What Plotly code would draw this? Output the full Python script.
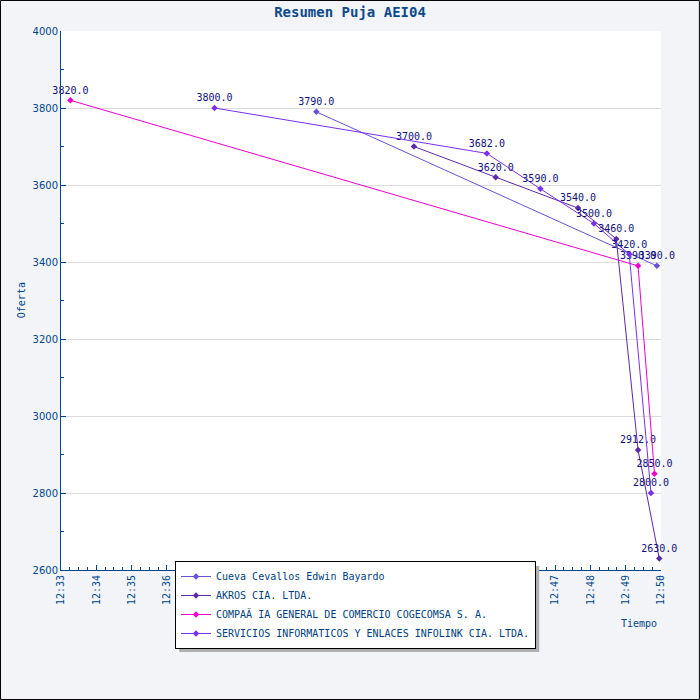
import plotly.graph_objects as go

dia = "2024-01-01 "

series_names = [
    "Cueva Cevallos Edwin Bayardo",
    "AKROS CIA. LTDA.",
    "COMPAÃ IA GENERAL DE COMERCIO COGECOMSA S. A.",
    "SERVICIOS INFORMATICOS Y ENLACES INFOLINK CIA. LTDA.",
]
series_colors = ["#6a50d8", "#5b2aa8", "#ee00cc", "#7a30ec"]

cueva_tiempo = ["12:40:14", "12:49:53"]
cueva_oferta = [3790, 3390]

akros_tiempo = ["12:43:00", "12:45:19", "12:47:39", "12:48:44", "12:49:21", "12:49:57"]
akros_oferta = [3700, 3620, 3540, 3460, 2912, 2630]

cogecomsa_tiempo = ["12:33:16", "12:49:21", "12:49:49"]
cogecomsa_oferta = [3820, 3390, 2850]

infolink_tiempo = ["12:37:21", "12:45:04", "12:46:35", "12:48:06", "12:49:06", "12:49:43"]
infolink_oferta = [3800, 3682, 3590, 3500, 3420, 2800]

tiempos = [cueva_tiempo, akros_tiempo, cogecomsa_tiempo, infolink_tiempo]
ofertas = [cueva_oferta, akros_oferta, cogecomsa_oferta, infolink_oferta]

azul = "#00468c"
mono = "DejaVu Sans Mono"

fig = go.Figure()

for name, color, t, v in zip(series_names, series_colors, tiempos, ofertas):
    fig.add_trace(go.Scatter(
        x=[dia + h for h in t], y=v, name=name,
        mode="lines+markers+text",
        text=["%.1f" % o for o in v],
        textposition="top center",
        textfont=dict(family=mono, size=10, color="#10107a"),
        line=dict(color=color, width=1),
        marker=dict(symbol="diamond", size=5, color=color),
        cliponaxis=False,
    ))

# plot area spans 61..661 x 31..570 px
fig.update_layout(
    width=700, height=700, autosize=False,
    margin=dict(l=61, r=39, t=31, b=130),
    paper_bgcolor="#f3f4f7",
    plot_bgcolor="white",
    title=dict(text="<b>Resumen Puja AEI04</b>", x=0.5, xanchor="center",
               y=0.983, yanchor="middle",
               font=dict(family=mono, size=14, color="#0b4a8c")),
    font=dict(family=mono, size=10, color=azul),
    showlegend=True,
    legend=dict(x=0.19, y=0.0167, xanchor="left", yanchor="top",
                bgcolor="white", bordercolor="black", borderwidth=1,
                font=dict(family=mono, size=10, color="#003f7f"),
                tracegroupgap=0),
    xaxis=dict(range=[dia + "12:33:00", dia + "12:50:00"],
               dtick=60000, tickformat="%H:%M", tickangle=-90,
               ticks="inside", ticklen=5, tickcolor=azul,
               showline=True, linecolor=azul, linewidth=1,
               showgrid=False, zeroline=False,
               tickfont=dict(family=mono, size=10, color=azul),
               minor=dict(dtick=15000, ticks="inside", ticklen=3, tickcolor=azul)),
    yaxis=dict(range=[2600, 4000], dtick=200,
               ticks="inside", ticklen=5, tickcolor=azul,
               showline=True, linecolor=azul, linewidth=1,
               showgrid=True, gridcolor="#dcdcdc", zeroline=False,
               tickfont=dict(family="DejaVu Sans", size=10, color=azul),
               minor=dict(dtick=100, ticks="inside", ticklen=3, tickcolor=azul)),
    annotations=[
        dict(text="Tiempo", xref="paper", yref="paper", x=0.997, y=-0.113,
             xanchor="right", showarrow=False,
             font=dict(family=mono, size=10, color=azul)),
        dict(text="Oferta", xref="paper", yref="paper", x=-0.078, y=0.5,
             textangle=-90, showarrow=False, font=dict(family=mono, size=10, color=azul)),
    ],
    shapes=[
        # legend shadow (legend box sits on top of it)
        dict(type="rect", xref="paper", yref="paper", layer="above",
             x0=0.197, x1=0.797, y0=-0.152, y1=0.0074,
             fillcolor="#b0b0b0", line=dict(width=0)),
        # outer border
        dict(type="rect", xref="paper", yref="paper", layer="above",
             x0=-0.1008, x1=1.064, y0=-0.2403, y1=1.0566,
             line=dict(color="black", width=1)),
    ],
)

fig.write_html("out.html", config={"displayModeBar": False},
               post_script="document.body.style.margin='0';")
